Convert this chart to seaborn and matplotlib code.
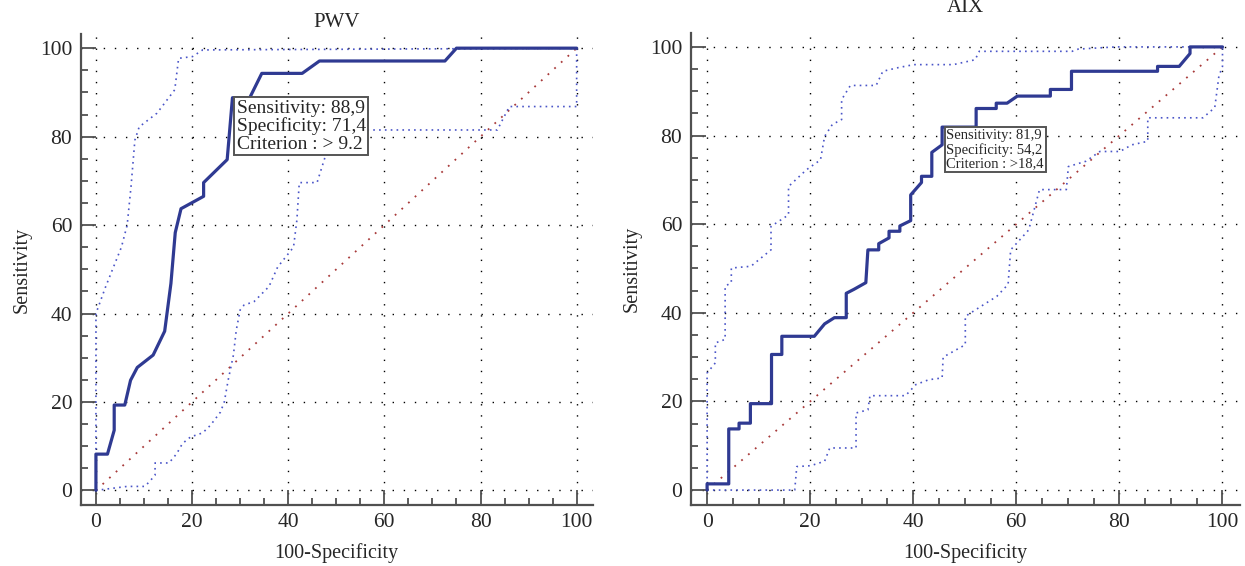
import pandas as pd
import matplotlib.pyplot as plt
import seaborn as sns
from matplotlib.ticker import MultipleLocator

# ── DATA ──────────────────────────────────
# PWV
pwv_x = [0, 0, 2.4, 3.8, 3.8, 6.0, 7.2, 8.6, 11.9, 14.3, 15.6, 16.5, 17.7, 22.4, 22.4,
         27.3, 28.4, 32.0, 34.5, 42.9, 46.5, 72.6, 75.0, 100]
pwv_y = [0, 8.2, 8.2, 13.6, 19.3, 19.3, 24.9, 27.8, 30.6, 36.0, 46.8, 58.3, 63.7, 66.5, 69.6,
         74.8, 88.8, 88.8, 94.3, 94.3, 97.1, 97.1, 100, 100]
pwv_hi_x = [0, 0, 2.0, 5.3, 6.5, 7.3, 8.1, 9.0, 12.7, 16.4, 17.2, 20.1, 22.2, 100]
pwv_hi_y = [0, 40, 46, 55, 60, 68.7, 79.2, 82.2, 85.3, 90.6, 97.7, 98.1, 99.6, 100]
pwv_lo_x = [0, 6.5, 10.2, 12.3, 12.3, 15.2, 16.8, 18.0, 19.7, 22.2, 23.8, 25.9, 26.7, 27.5,
            28.6, 29.2, 30.0, 30.8, 32.9, 36.0, 37.8, 41.1, 41.8, 42.3, 46.0, 47.7, 48.1,
            83.5, 86.0, 100, 100]
pwv_lo_y = [0, 0.9, 0.9, 3.4, 6.2, 6.2, 8.3, 10.6, 12.1, 13.0, 14.7, 17.7, 20.0, 24.9,
            30.6, 36.3, 40.8, 41.9, 42.7, 46.1, 50.5, 55.0, 61.1, 69.6, 69.6, 75.5, 81.5,
            81.5, 86.8, 86.8, 100]
pwv_point = (28.4, 88.8)
pwv_text = "Sensitivity: 88,9\nSpecificity: 71,4\nCriterion : > 9.2"

# AIX
aix_x = [0, 0, 4.2, 4.2, 6.2, 6.2, 8.4, 8.4, 12.5, 12.5, 14.5, 14.5, 20.8, 22.8, 24.7, 27.0,
         27.0, 28.5, 30.8, 31.2, 33.3, 33.3, 35.3, 35.3, 37.4, 37.4, 39.5, 39.5, 41.6, 41.6,
         43.6, 43.6, 45.6, 45.6, 52.2, 52.2, 56.1, 56.1, 58.2, 60.2, 66.6, 66.6, 70.7, 70.7,
         87.4, 87.4, 91.6, 93.7, 93.7, 100]
aix_y = [0, 1.4, 1.4, 13.8, 13.8, 15.1, 15.1, 19.5, 19.5, 30.6, 30.6, 34.7, 34.7, 37.5, 38.9,
         38.9, 44.4, 45.3, 46.8, 54.2, 54.2, 55.6, 56.9, 58.4, 58.4, 59.6, 60.8, 66.6, 69.4,
         70.8, 70.8, 76.2, 77.9, 81.9, 81.9, 86.1, 86.1, 87.3, 87.3, 88.9, 88.9, 90.4, 90.4,
         94.5, 94.5, 95.6, 95.6, 98.5, 100, 100]
aix_hi_x = [0, 0, 1.6, 1.6, 3.5, 3.5, 4.7, 4.7, 8.5, 12.4, 12.4, 15.8, 15.8, 19.3, 22.0,
            22.8, 24.3, 26.1, 26.1, 27.8, 32.8, 34.1, 37.0, 40.1, 47.8, 52.0, 52.8, 70.8,
            72.0, 79.3, 100]
aix_hi_y = [0, 26.4, 28.7, 33.2, 34.0, 46.0, 46.8, 50.1, 50.5, 54.2, 59.5, 62.1, 68.5, 72.3,
            74.5, 79.8, 82.5, 83.6, 88.1, 91.3, 91.3, 94.5, 95.3, 96.0, 96.0, 97.1, 99.0,
            99.0, 99.5, 100, 100]
aix_lo_x = [0, 17.0, 17.4, 20.1, 22.8, 23.8, 28.9, 28.9, 31.2, 31.6, 38.5, 40.5, 43.0, 45.6,
            45.8, 50.1, 50.1, 53.2, 56.2, 58.4, 58.9, 62.4, 64.5, 69.7, 70.1, 73.5, 76.2,
            80.1, 82.4, 85.5, 85.5, 96.2, 98.5, 99.3, 100, 100]
aix_lo_y = [0, 0, 5.3, 5.5, 6.5, 9.5, 9.5, 17.4, 18.1, 21.3, 21.3, 23.8, 24.9, 25.3, 30.0,
            32.8, 39.2, 41.5, 43.7, 46.4, 54.2, 58.7, 67.8, 67.8, 73.0, 74.2, 76.4, 76.4,
            77.9, 78.7, 84.0, 84.0, 86.3, 93.4, 95.6, 100]
aix_point = (45.6, 81.9)
aix_text = "Sensitivity: 81,9\nSpecificity: 54,2\nCriterion : >18,4"

ref_x = [0, 100]
ref_y = [0, 100]

# ── STYLE ─────────────────────────────────
sns.set_style("white")
plt.rcParams['font.family'] = ['Liberation Serif', 'DejaVu Serif']
plt.rcParams['font.size'] = 14

MAIN = '#2f3a92'
CI = '#4a55c8'
DIAG = '#a83a3a'
AX = '#505050'

fig = plt.figure(figsize=(12.45, 5.66), dpi=100)
ax1 = fig.add_axes([0.0647, 0.1078, 0.4116, 0.8321])
ax2 = fig.add_axes([0.5547, 0.1083, 0.4413, 0.8339])


def draw_roc(ax, x, y, hx, hy, lx, ly, pt, txt, fs, ls, title, tpad):
    d = pd.DataFrame({'x': x, 'y': y})
    dh = pd.DataFrame({'x': hx, 'y': hy})
    dl = pd.DataFrame({'x': lx, 'y': ly})
    dr = pd.DataFrame({'x': ref_x, 'y': ref_y})
    sns.lineplot(data=dr, x='x', y='y', ax=ax, sort=False, estimator=None,
                 color=DIAG, lw=1.3, linestyle=(0, (1, 4)))
    sns.lineplot(data=dh, x='x', y='y', ax=ax, sort=False, estimator=None,
                 color=CI, lw=1.2, linestyle=(0, (1, 2.5)))
    sns.lineplot(data=dl, x='x', y='y', ax=ax, sort=False, estimator=None,
                 color=CI, lw=1.2, linestyle=(0, (1, 2.5)))
    sns.lineplot(data=d, x='x', y='y', ax=ax, sort=False, estimator=None,
                 color=MAIN, lw=2.3)

    ax.set_xlim(-3.2, 103.4)
    ax.set_ylim(-3.3, 103.2)
    ax.xaxis.set_major_locator(MultipleLocator(20))
    ax.xaxis.set_minor_locator(MultipleLocator(5))
    ax.yaxis.set_major_locator(MultipleLocator(20))
    ax.yaxis.set_minor_locator(MultipleLocator(5))
    ax.tick_params(which='major', direction='in', length=11, width=1.3, color=AX,
                   labelsize=15.5, pad=6, left=True, bottom=True)
    ax.tick_params(which='minor', direction='in', length=5, width=1.3, color=AX,
                   left=True, bottom=True)
    ax.grid(True, which='major', color='black', lw=1.0, linestyle=(0, (1, 7)))
    for s in ['top', 'right']:
        ax.spines[s].set_visible(False)
    for s in ['left', 'bottom']:
        ax.spines[s].set_color(AX)
        ax.spines[s].set_linewidth(1.6)
    ax.set_xlabel('100-Specificity', fontsize=14.5, labelpad=8)
    ax.set_ylabel('Sensitivity', fontsize=14.5, labelpad=6)
    ax.set_title(title, fontsize=15, pad=tpad)

    ax.annotate(txt, xy=pt, xytext=(3, -1.5), textcoords='offset points',
                ha='left', va='top', fontsize=fs, linespacing=ls, zorder=5,
                bbox=dict(boxstyle='square,pad=0.12', fc='white', ec='#555555', lw=1.4))


draw_roc(ax1, pwv_x, pwv_y, pwv_hi_x, pwv_hi_y, pwv_lo_x, pwv_lo_y,
         pwv_point, pwv_text, 14, 1.05, 'PWV', 5)
draw_roc(ax2, aix_x, aix_y, aix_hi_x, aix_hi_y, aix_lo_x, aix_lo_y,
         aix_point, aix_text, 10.5, 1.08, 'AIX', 15)

plt.savefig('out.png', dpi=100)
